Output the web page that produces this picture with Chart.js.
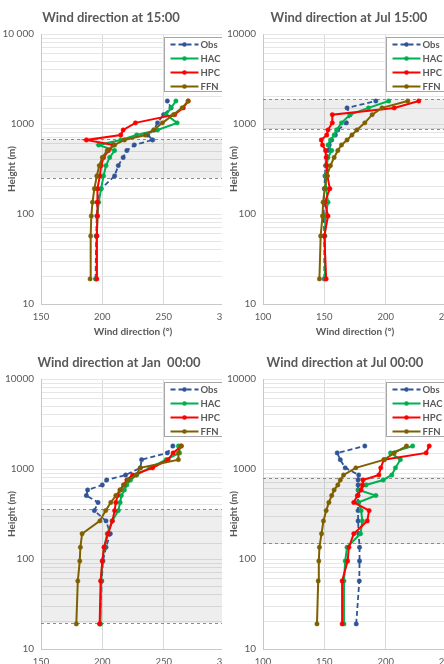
<!DOCTYPE html>
<html>
<head>
<meta charset="utf-8">
<script src="https://cdn.jsdelivr.net/npm/chart.js@4.4.1/dist/chart.umd.min.js"></script>
<style>
  body { margin: 0; background: #fff; }
  #wrap { position: relative; width: 444px; height: 664px; overflow: hidden; }
  .cell { position: absolute; width: 222px; height: 340px; overflow: hidden; }
  .cell canvas { display: block; }
</style>
</head>
<body>
<div id="wrap">
  <div class="cell" style="left:0;top:0"><canvas id="c1" width="228" height="340"></canvas></div>
  <div class="cell" style="left:222px;top:0"><canvas id="c2" width="228" height="340"></canvas></div>
  <div class="cell" style="left:0;top:345px"><canvas id="c3" width="228" height="340"></canvas></div>
  <div class="cell" style="left:222px;top:345px"><canvas id="c4" width="228" height="340"></canvas></div>
</div>
<script>
// model levels (m), shared by all series
const heights = [19, 57, 95, 135, 191, 265, 345, 425, 507, 585, 665, 755, 858, 1030, 1270, 1510, 1800];
const seriesNames = ['Obs', 'HAC', 'HPC', 'FFN'];
const titles = ['Wind direction at 15:00', 'Wind direction at Jul 15:00', 'Wind direction at Jan  00:00', 'Wind direction at Jul 00:00'];
const yTicks = [10, 100, 1000, 10000];

// panel 1: 15:00
const obs1 = [194.5, 195, 195.5, 196, 199, 210, 213, 217, 220, 226, 241, 237, 242, 245, 250, 256, 253];
const hac1 = [195, 195.5, 196, 197, 199, 201, 203, 206, 210, 197, 215, 228, 245, 261, 252, 256, 260];
const hpc1 = [195.5, 195.5, 196, 196, 196, 198, 199, 201, 205, 209, 187, 215, 217, 227, 259, 266, 270];
const ffn1 = [190, 190.5, 191, 192, 193.5, 195.5, 197.5, 200, 204, 210, 218, 235, 242, 249, 258, 265, 270];
const band1 = [251, 681];

// panel 2: Jul 15:00
const obs2 = [150, 150, 149.5, 149.5, 150, 150.5, 151, 152, 153, 154, 156, 159, 161, 168, 171, 168.5, 192];
const hac2 = [150.5, 150.5, 151, 153, 151.5, 151, 152, 153, 156, 153, 155, 158, 160, 164, 171, 186, 202.5];
const hpc2 = [151.5, 150, 153, 150.5, 154.5, 152.5, 152, 151.5, 151, 148.5, 147.5, 152, 153, 156.5, 156.5, 207, 227];
const ffn2 = [146, 147, 148.5, 149, 150.3, 152, 155, 158, 161, 164, 168.5, 172.5, 176.5, 183, 189, 197, 218];
const band2 = [880, 1896];

// panel 3: Jan 00:00
const obs3 = [198, 199.5, 200.5, 203, 206.5, 203, 193.5, 196.5, 187, 188, 200, 203.5, 219, 231, 232, 253, 257.5];
const hac3 = [198.5, 199, 200, 201.5, 204, 208, 213, 214.5, 215.5, 218, 220, 223, 228, 238.5, 252, 263, 262];
const hpc3 = [197.8, 198.6, 200, 201.4, 204.7, 208.2, 210, 211, 212.4, 214.5, 217.3, 220, 224.7, 241, 253.6, 257.7, 264.5];
const ffn3 = [178.8, 180, 181.6, 182.1, 183.5, 198, 202.7, 206.9, 211, 214.5, 217.8, 221, 227.5, 231, 262, 262, 264];
const band3 = [19.4, 359];

// panel 4: Jul 00:00
const obs4 = [176, 178.5, 178.7, 178.7, 178, 177.5, 177.5, 177.5, 177.5, 177.5, 177.5, 177.5, 178, 167, 163, 160.5, 183];
const hac4 = [166, 166, 167, 168.5, 179.5, 181, 180, 178, 192, 178, 184, 198, 205, 208, 212, 204, 222];
const hpc4 = [164.5, 164.5, 169, 170, 174, 185, 186.5, 174, 177, 180, 181, 181.5, 194.5, 196, 198.5, 233, 235.5];
const ffn4 = [144, 145, 145.5, 146, 147.7, 149.3, 151.5, 153.7, 156, 158, 161, 163, 165.7, 175.7, 199, 207, 217];
const band4 = [150, 794];

const colors = ['#2F5597', '#00B050', '#FF0000', '#7F6000'];
const FONT = 'Lato, "Liberation Sans", sans-serif';
const GREY = '#595959';

const panelTitle = {
  id: 'panelTitle',
  afterDraw(chart, args, opts) {
    const ctx = chart.ctx;
    ctx.save();
    ctx.font = 'bold 13px ' + FONT;
    ctx.fillStyle = GREY;
    ctx.textAlign = 'center';
    ctx.textBaseline = 'middle';
    ctx.fillText(opts.text, opts.x, 18);
    ctx.restore();
  }
};

const band = {
  id: 'band',
  beforeDatasetsDraw(chart, args, opts) {
    const { ctx, chartArea: a, scales: { y } } = chart;
    const yLo = y.getPixelForValue(opts.range[0]);
    const yHi = y.getPixelForValue(opts.range[1]);
    ctx.save();
    ctx.fillStyle = 'rgba(0,0,0,0.065)';
    ctx.fillRect(a.left, yHi, a.right - a.left, yLo - yHi);
    ctx.strokeStyle = '#8c8c8c';
    ctx.lineWidth = 1;
    ctx.setLineDash([3, 3]);
    [yLo, yHi].forEach(p => {
      ctx.beginPath();
      ctx.moveTo(a.left, Math.round(p) + 0.5);
      ctx.lineTo(a.right, Math.round(p) + 0.5);
      ctx.stroke();
    });
    ctx.restore();
  }
};

const boxLegend = {
  id: 'boxLegend',
  afterDatasetsDraw(chart) {
    const { ctx, chartArea: a } = chart;
    const x0 = Math.round(a.right - 61) + 0.5, y0 = Math.round(a.top + 3) + 0.5;
    ctx.save();
    ctx.fillStyle = '#fff';
    ctx.fillRect(x0, y0, 70, 54);
    ctx.strokeStyle = '#a6a6a6';
    ctx.lineWidth = 1;
    ctx.strokeRect(x0, y0, 70, 54);
    ctx.font = 'bold 9.5px ' + FONT;
    ctx.textBaseline = 'middle';
    chart.data.datasets.forEach((ds, i) => {
      const ly = y0 + 7 + i * 14;
      ctx.strokeStyle = ds.borderColor;
      ctx.lineWidth = 2;
      ctx.setLineDash(ds.borderDash || []);
      ctx.beginPath();
      ctx.moveTo(x0 + 6, ly);
      ctx.lineTo(x0 + 34, ly);
      ctx.stroke();
      ctx.setLineDash([]);
      ctx.fillStyle = ds.borderColor;
      ctx.beginPath();
      ctx.arc(x0 + 20, ly, 2.3, 0, Math.PI * 2);
      ctx.fill();
      ctx.fillStyle = GREY;
      ctx.fillText(ds.label, x0 + 36, ly);
    });
    ctx.restore();
  }
};

function makeChart(id, title, titleX, xMin, series, bandRange, topLabel) {
  const datasets = series.map((vals, i) => ({
    label: seriesNames[i],
    data: vals.map((v, k) => ({ x: v, y: heights[k] })),
    showLine: true,
    borderColor: colors[i],
    backgroundColor: colors[i],
    pointBackgroundColor: colors[i],
    pointBorderColor: colors[i],
    borderWidth: i === 0 ? 1.8 : 2,
    borderDash: i === 0 ? [5, 3] : undefined,
    pointRadius: 2.2,
    pointBorderWidth: 0.5,
    tension: 0,
    order: 3 - i
  }));
  return new Chart(document.getElementById(id), {
    type: 'scatter',
    data: { datasets },
    plugins: [band, boxLegend, panelTitle],
    options: {
      responsive: false,
      animation: false,
      devicePixelRatio: 1,
      events: [],
      layout: { autoPadding: false, padding: { top: 34, right: 3, left: 0, bottom: 0 } },
      plugins: {
        legend: { display: false },
        tooltip: { enabled: false },
        panelTitle: { text: title, x: titleX },
        band: { range: bandRange }
      },
      scales: {
        x: {
          type: 'linear',
          min: xMin,
          max: xMin + 150,
          afterFit(s) { s.height = 36; s.paddingLeft = 0; s.paddingRight = 0; },
          grid: { color: '#d9d9d9', drawTicks: false },
          border: { color: '#c8c8c8' },
          ticks: { stepSize: 50, padding: 7, color: GREY, font: { family: FONT, size: 9.5 } },
          title: { display: true, text: 'Wind direction (°)', color: GREY, padding: { top: 0, bottom: 2 }, font: { family: FONT, size: 10, weight: 'bold' } }
        },
        y: {
          type: 'logarithmic',
          min: 10,
          max: 10000,
          afterFit(s) { s.width = 41; s.paddingTop = 0; s.paddingBottom = 0; },
          grid: { color: '#e6e6e6', drawTicks: false },
          border: { color: '#c8c8c8' },
          ticks: {
            autoSkip: false,
            padding: 7,
            color: GREY,
            font: { family: FONT, size: 10 },
            callback(v) {
              const hit = yTicks.find(t => Math.abs(t - v) < 1e-6 * t);
              if (!hit) return '';
              return hit === 10000 ? topLabel : String(hit);
            }
          },
          title: { display: true, text: 'Height (m)', color: GREY, padding: { top: 6, bottom: 0 }, font: { family: FONT, size: 10, weight: 'bold' } }
        }
      }
    }
  });
}

makeChart('c1', titles[0], 111, 150, [obs1, hac1, hpc1, ffn1], band1, '10 000');
makeChart('c2', titles[1], 127, 100, [obs2, hac2, hpc2, ffn2], band2, '10000');
makeChart('c3', titles[2], 119, 150, [obs3, hac3, hpc3, ffn3], band3, '10000');
makeChart('c4', titles[3], 123, 100, [obs4, hac4, hpc4, ffn4], band4, '10000');
</script>
</body>
</html>
